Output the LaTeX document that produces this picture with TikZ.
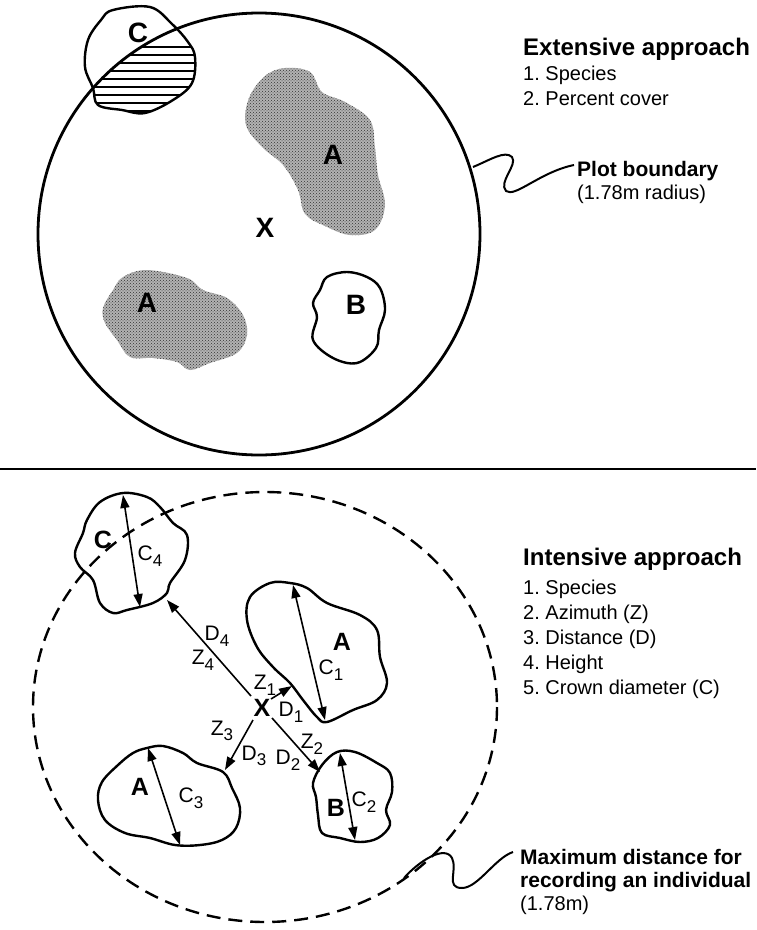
\documentclass[tikz,border=0pt]{standalone}
\usepackage{fontspec}
\setmainfont{Liberation Sans}
\usetikzlibrary{arrows.meta,patterns}
\newcommand\sbs[1]{\raisebox{-0.5ex}{\fontsize{17}{17}\selectfont #1}}
\frenchspacing
\begin{document}
\begin{tikzpicture}[x=1pt,y=-1pt,line join=round,
  blobline/.style={line width=2.4pt},
  meas/.style={line width=1.6pt,-{Triangle[length=13pt,width=9pt]}},
  dmeas/.style={line width=1.6pt,{Triangle[length=13pt,width=9pt]}-{Triangle[length=13pt,width=9pt]}},
  bigtop/.style={font=\fontsize{28}{28}\selectfont\bfseries,inner sep=0pt},
  bigbot/.style={font=\fontsize{25}{25}\selectfont\bfseries,inner sep=0pt},
  sublbl/.style={font=\fontsize{21}{21}\selectfont,inner sep=0pt},
  head/.style={font=\fontsize{24}{24}\selectfont\bfseries,anchor=base west,inner sep=0pt},
  item/.style={font=\fontsize{20}{20}\selectfont,anchor=base west,inner sep=0pt},
  note/.style={font=\fontsize{21}{21}\selectfont\bfseries,anchor=base west,inner sep=0pt},
  notesub/.style={font=\fontsize{20}{20}\selectfont,anchor=base west,inner sep=0pt}]
\useasboundingbox (0,0) rectangle (756,930);

% ---------------- TOP PANEL ----------------
\def\blobCtop{plot[smooth cycle,tension=0.6] coordinates{(113,10)(150,7)(172,24)(188,42)(195,57)(192,83)(173,100)(145,113)(122,110)(98,105)(93,88)(85,67)(88,40)(101,20)}}
\def\blobAone{plot[smooth cycle,tension=0.6] coordinates{(285,68)(310,72)(322,92)(345,102)(370,120)(375,148)(378,175)(385,205)(375,230)(350,235)(325,226)(305,214)(298,190)(283,165)(262,147)(246,125)(249,98)(265,76)}}
\def\blobAtwo{plot[smooth cycle,tension=0.6] coordinates{(147,270)(187,278)(203,290)(227,298)(243,315)(247,335)(237,353)(210,363)(190,370)(177,362)(153,358)(130,357)(117,340)(105,323)(103,308)(113,290)(123,277)}}
% stippled A areas
\fill[black!30] \blobAone;
\fill[pattern=crosshatch dots,pattern color=black!80] \blobAone;
\fill[black!30] \blobAtwo;
\fill[pattern=crosshatch dots,pattern color=black!80] \blobAtwo;
% B
\draw[blobline] plot[smooth cycle,tension=0.6] coordinates{(327,277)(347,272)(367,277)(380,288)(385,310)(379,330)(376,348)(357,363)(333,358)(313,340)(317,317)(313,303)(320,290)};
% C with hatching
\draw[blobline] \blobCtop;
\begin{scope}
  \clip \blobCtop;
  \clip (259,234) circle[radius=221];
  \foreach \yy in {47,55,...,111} \draw[line width=1.4pt] (60,\yy) -- (210,\yy);
\end{scope}
% plot boundary
\draw[line width=2.8pt] (259,234) circle[radius=221];
\coordinate (pb) at (473,167);
\coordinate (pbend) at (574,165);
\draw[line width=2pt] (pb) .. controls (490,160) and (505,150) .. (512,157) .. controls (518,165) and (498,182) .. (506,191) .. controls (515,198) and (540,172) .. (pbend);
% labels
\node[bigtop] (tC) at (138,33) {C};
\node[bigtop] (tA1) at (333,155) {A};
\node[bigtop] (tA2) at (147,303) {A};
\node[bigtop] (tB) at (356,305) {B};
\node[bigtop] (tX) at (265,228) {X};
\node[head] (ext) at (523,55) {Extensive approach};
\node[item] (ext1) at (523,80) {1. Species};
\node[item] (ext2) at (523,105) {2. Percent cover};
\node[note] (pbl) at (577,176) {Plot boundary};
\node[notesub] (pbl2) at (577,199) {(1.78m radius)};

% separator
\draw[line width=1.6pt] (0,469) -- (756,469);

% ---------------- BOTTOM PANEL ----------------
\draw[line width=2.4pt,dash pattern=on 14pt off 8pt] (265,707) ellipse[x radius=232,y radius=215];
% blobs
\draw[blobline] plot[smooth cycle,tension=0.6] coordinates{(123,493)(147,497)(160,507)(173,523)(187,535)(185,560)(170,583)(167,593)(153,603)(127,610)(113,613)(100,603)(93,580)(80,567)(75,553)(83,533)(87,520)(100,502)};
\draw[blobline] plot[smooth cycle,tension=0.6] coordinates{(290,583)(307,588)(327,603)(360,615)(377,630)(380,657)(387,683)(377,700)(353,710)(327,722)(317,717)(303,700)(290,683)(273,667)(257,647)(247,620)(250,597)(270,583)};
\draw[blobline] plot[smooth cycle,tension=0.6] coordinates{(337,752)(355,752)(377,763)(390,773)(392,792)(386,810)(390,825)(378,838)(360,842)(340,838)(322,833)(318,815)(316,797)(313,783)(322,765)};
\draw[blobline] plot[smooth cycle,tension=0.6] coordinates{(147,748)(163,746)(183,753)(197,763)(223,772)(232,788)(240,808)(236,828)(222,840)(200,845)(175,845)(150,838)(125,833)(105,820)(98,800)(102,782)(118,765)(133,753)};
% centre and measurement coordinates
\node[bigbot] (X) at (262,708) {X};
\coordinate (x1) at (271,699);
\coordinate (e1) at (292,686);
\coordinate (x2) at (272,718);
\coordinate (e2) at (320,772);
\coordinate (x3) at (253,720);
\coordinate (e3) at (225,770);
\coordinate (x4) at (251,696);
\coordinate (e4) at (167,600);
\coordinate (c4a) at (123,495);
\coordinate (c4b) at (140,607);
\coordinate (c1a) at (293,585);
\coordinate (c1b) at (325,720);
\coordinate (c2a) at (340,753);
\coordinate (c2b) at (355,840);
\coordinate (c3a) at (148,748);
\coordinate (c3b) at (180,845);
\draw[meas] (x1) -- (e1);
\draw[meas] (x2) -- (e2);
\draw[meas] (x3) -- (e3);
\draw[meas] (x4) -- (e4);
\draw[dmeas] (c4a) -- (c4b);
\draw[dmeas] (c1a) -- (c1b);
\draw[dmeas] (c2a) -- (c2b);
\draw[dmeas] (c3a) -- (c3b);
% big labels
\node[bigbot] (bC) at (103,540) {C};
\node[bigbot] (bA1) at (342,642) {A};
\node[bigbot] (bB) at (336,808) {B};
\node[bigbot] (bA3) at (140,787) {A};
% small labels
\node[sublbl] (lC4) at (150,556) {C\sbs{4}};
\node[sublbl] (lD4) at (217,636) {D\sbs{4}};
\node[sublbl] (lZ4) at (203,660) {Z\sbs{4}};
\node[sublbl] (lZ1) at (265,685) {Z\sbs{1}};
\node[sublbl] (lD1) at (291,712) {D\sbs{1}};
\node[sublbl] (lZ2) at (312,744) {Z\sbs{2}};
\node[sublbl] (lD2) at (288,760) {D\sbs{2}};
\node[sublbl] (lZ3) at (222,731) {Z\sbs{3}};
\node[sublbl] (lD3) at (254,756) {D\sbs{3}};
\node[sublbl] (lC1) at (331,670) {C\sbs{1}};
\node[sublbl] (lC2) at (364,802) {C\sbs{2}};
\node[sublbl] (lC3) at (191,798) {C\sbs{3}};
% leader
\coordinate (md) at (404,878);
\coordinate (mdend) at (513,852);
\draw[line width=2pt] (md) .. controls (420,860) and (445,845) .. (452,858) .. controls (458,870) and (445,888) .. (462,888) .. controls (478,888) and (495,858) .. (mdend);
% texts
\node[head] (int) at (523,565) {Intensive approach};
\node[item] (int1) at (523,594) {1. Species};
\node[item] (int2) at (523,619) {2. Azimuth (Z)};
\node[item] (int3) at (523,644) {3. Distance (D)};
\node[item] (int4) at (523,669) {4. Height};
\node[item] (int5) at (523,694) {5. Crown diameter (C)};
\node[note] (mx1) at (520,864) {Maximum distance for};
\node[note] (mx2) at (520,887) {recording an individual};
\node[notesub] (mx3) at (520,910) {(1.78m)};
\end{tikzpicture}
\end{document}
